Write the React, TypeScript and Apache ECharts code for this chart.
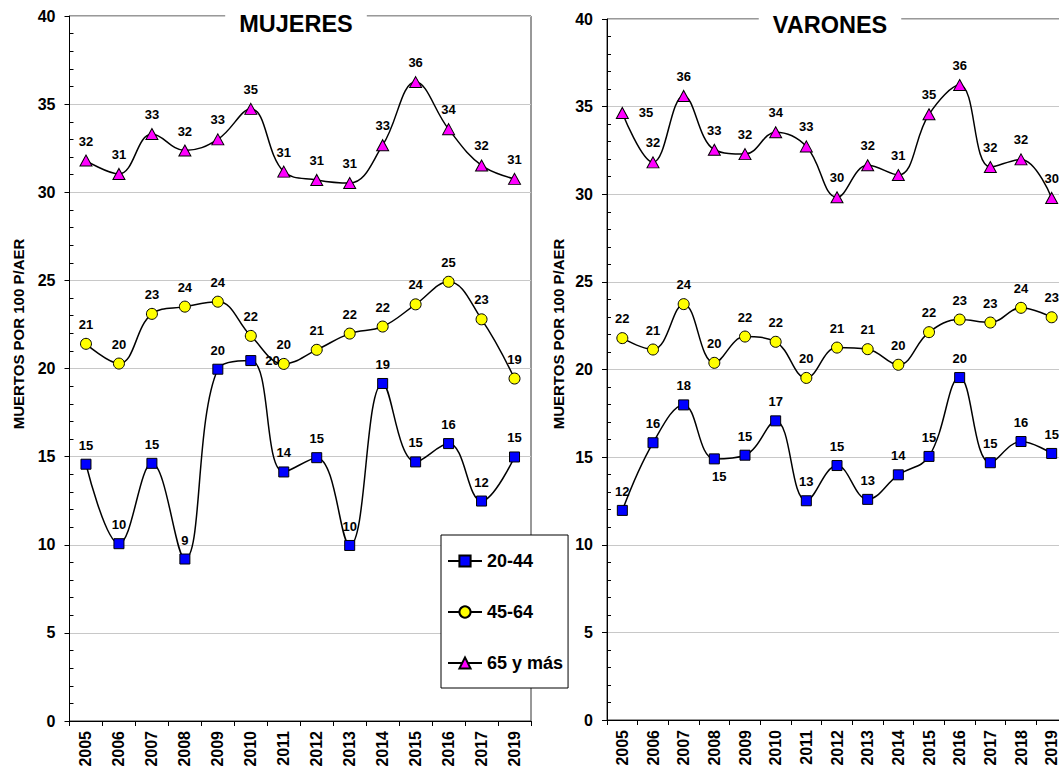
import React, { useEffect, useRef } from "react";
import * as echarts from "echarts";

const YEARS_MUJ = ["2005", "2006", "2007", "2008", "2009", "2010", "2011", "2012", "2013", "2014", "2015", "2016", "2017", "2019"];
const YEARS_VAR = ["2005", "2006", "2007", "2008", "2009", "2010", "2011", "2012", "2013", "2014", "2015", "2016", "2017", "2018", "2019"];

const MUJ_20_44 = [14.57, 10.06, 14.62, 9.19, 19.96, 20.45, 14.13, 14.94, 9.96, 19.15, 14.7, 15.74, 12.48, 14.98];
const MUJ_45_64 = [21.4, 20.28, 23.1, 23.51, 23.79, 21.85, 20.26, 21.06, 21.98, 22.38, 23.64, 24.92, 22.79, 19.43];
const MUJ_65 = [31.8, 31.04, 33.3, 32.37, 33.0, 34.73, 31.17, 30.7, 30.52, 32.67, 36.25, 33.58, 31.52, 30.76];

const VAR_20_44 = [11.96, 15.82, 17.98, 14.9, 15.11, 17.07, 12.51, 14.52, 12.59, 13.99, 15.04, 19.54, 14.68, 15.89, 15.21];
const VAR_45_64 = [21.79, 21.14, 23.73, 20.38, 21.88, 21.58, 19.52, 21.25, 21.16, 20.27, 22.13, 22.85, 22.68, 23.52, 22.98];
const VAR_65 = [34.64, 31.82, 35.61, 32.54, 32.29, 33.54, 32.73, 29.83, 31.65, 31.1, 34.56, 36.23, 31.55, 31.99, 29.79];

const SERIES_NAMES = ["20-44", "45-64", "65 y más"];
const MINOR_TICKS = [1, 2, 3, 4, 6, 7, 8, 9, 11, 12, 13, 14, 16, 17, 18, 19, 21, 22, 23, 24, 26, 27, 28, 29, 31, 32, 33, 34, 36, 37, 38, 39];

const FONT = "Arial, 'Liberation Sans', Helvetica, sans-serif";

// label placement overrides (index -> label option)
const OVR_MUJ_20_44: Record<number, any> = { 5: { position: "right", distance: 9 } };
const OVR_VAR_20_44: Record<number, any> = { 3: { position: "bottom", distance: 6, offset: [5, 0] } };
const OVR_VAR_65: Record<number, any> = { 0: { position: "right", distance: 10 } };

function makeSeries(
  name: string,
  values: number[],
  idx: number,
  symbol: string,
  size: any,
  color: string,
  overrides: Record<number, any> = {}
) {
  return {
    type: "line",
    name,
    xAxisIndex: idx,
    yAxisIndex: idx,
    data: values.map((v, i) => (overrides[i] ? { value: v, label: overrides[i] } : v)),
    smooth: 0.4,
    symbol,
    symbolSize: size,
    showAllSymbol: true,
    clip: false,
    lineStyle: { color: "#000", width: 1.5 },
    itemStyle: { color, borderColor: "#000", borderWidth: 1 },
    label: {
      show: true,
      position: "top",
      distance: 7,
      formatter: (p: any) => String(Math.round(Number(p.value))),
      fontFamily: FONT,
      fontWeight: "bold",
      fontSize: 13,
      color: "#000",
    },
    emphasis: { disabled: true },
  };
}

function mainY(gridIndex: number) {
  return {
    type: "value",
    gridIndex,
    min: 0,
    max: 40,
    interval: 5,
    axisLine: { show: true, lineStyle: { color: "#000", width: 1 } },
    axisTick: { show: true, length: 5, lineStyle: { color: "#000" } },
    axisLabel: { fontFamily: FONT, fontWeight: "bold", fontSize: 16, color: "#000", margin: 14 },
    splitLine: { show: true, lineStyle: { color: "#c8c8c8", width: 1 } },
  };
}

function minorY(gridIndex: number) {
  return {
    type: "value",
    gridIndex,
    min: 0,
    max: 40,
    interval: 1,
    position: "left",
    axisLine: { show: false },
    axisTick: { show: true, inside: true, length: 4, lineStyle: { color: "#000" }, customValues: MINOR_TICKS },
    axisLabel: { show: false },
    splitLine: { show: false },
  };
}

function xAx(gridIndex: number, data: string[]) {
  return {
    type: "category",
    gridIndex,
    data,
    boundaryGap: true,
    axisLine: { show: true, lineStyle: { color: "#000", width: 1 } },
    axisTick: { show: true, length: 5, lineStyle: { color: "#000" } },
    axisLabel: {
      rotate: 90,
      interval: 0,
      fontFamily: FONT,
      fontWeight: "bold",
      fontSize: 16,
      color: "#000",
      margin: 10,
    },
    splitLine: { show: false },
  };
}

export default function App() {
  const ref = useRef<HTMLDivElement>(null);

  useEffect(() => {
    document.body.style.margin = "0";
    document.body.style.overflow = "hidden";
    if (!ref.current) return;
    const chart = echarts.init(ref.current, null, { renderer: "svg" });
    const option: any = {
      animation: false,
      backgroundColor: "#fff",
      grid: [
        { left: 69.5, top: 16, width: 461.5, height: 705, show: true, borderColor: "#333", borderWidth: 1, backgroundColor: "transparent" },
        { left: 607, top: 19, width: 460, height: 701, show: true, borderColor: "#333", borderWidth: 1, backgroundColor: "transparent" },
      ],
      xAxis: [xAx(0, YEARS_MUJ), xAx(1, YEARS_VAR)],
      yAxis: [mainY(0), mainY(1), minorY(0), minorY(1)],
      legend: {
        left: 441,
        top: 535,
        orient: "vertical",
        padding: [16, 5, 15, 6],
        itemGap: 31,
        itemWidth: 34,
        itemHeight: 14,
        backgroundColor: "#fff",
        borderColor: "#000",
        borderWidth: 1,
        selectedMode: false,
        textStyle: { fontFamily: FONT, fontWeight: "bold", fontSize: 18, color: "#000", lineHeight: 20 },
        data: SERIES_NAMES,
      },
      series: [
        makeSeries(SERIES_NAMES[0], MUJ_20_44, 0, "rect", 10, "#0000FF", OVR_MUJ_20_44),
        makeSeries(SERIES_NAMES[1], MUJ_45_64, 0, "circle", 11, "#FFFF00"),
        makeSeries(SERIES_NAMES[2], MUJ_65, 0, "triangle", [12, 11], "#FF00FF"),
        makeSeries(SERIES_NAMES[0], VAR_20_44, 1, "rect", 10, "#0000FF", OVR_VAR_20_44),
        makeSeries(SERIES_NAMES[1], VAR_45_64, 1, "circle", 11, "#FFFF00"),
        makeSeries(SERIES_NAMES[2], VAR_65, 1, "triangle", [12, 11], "#FF00FF", OVR_VAR_65),
      ],
      graphic: [
        {
          type: "text",
          x: 296,
          y: 24,
          z: 100,
          style: {
            text: "MUJERES",
            align: "center",
            verticalAlign: "middle",
            font: `bold 23.5px ${FONT}`,
            fill: "#000",
            backgroundColor: "#fff",
            padding: [2, 14],
          },
        },
        {
          type: "text",
          x: 830,
          y: 25,
          z: 100,
          style: {
            text: "VARONES",
            align: "center",
            verticalAlign: "middle",
            font: `bold 23.5px ${FONT}`,
            fill: "#000",
            backgroundColor: "#fff",
            padding: [2, 14],
          },
        },
        {
          type: "text",
          x: 18,
          y: 334,
          rotation: Math.PI / 2,
          style: {
            text: "MUERTOS POR 100 P/AER",
            align: "center",
            verticalAlign: "middle",
            font: `bold 15px ${FONT}`,
            fill: "#000",
          },
        },
        {
          type: "text",
          x: 558,
          y: 334,
          rotation: Math.PI / 2,
          style: {
            text: "MUERTOS POR 100 P/AER",
            align: "center",
            verticalAlign: "middle",
            font: `bold 15px ${FONT}`,
            fill: "#000",
          },
        },
      ],
    };
    chart.setOption(option);
    return () => chart.dispose();
  }, []);

  return <div ref={ref} style={{ width: 1068, height: 770 }} />;
}
